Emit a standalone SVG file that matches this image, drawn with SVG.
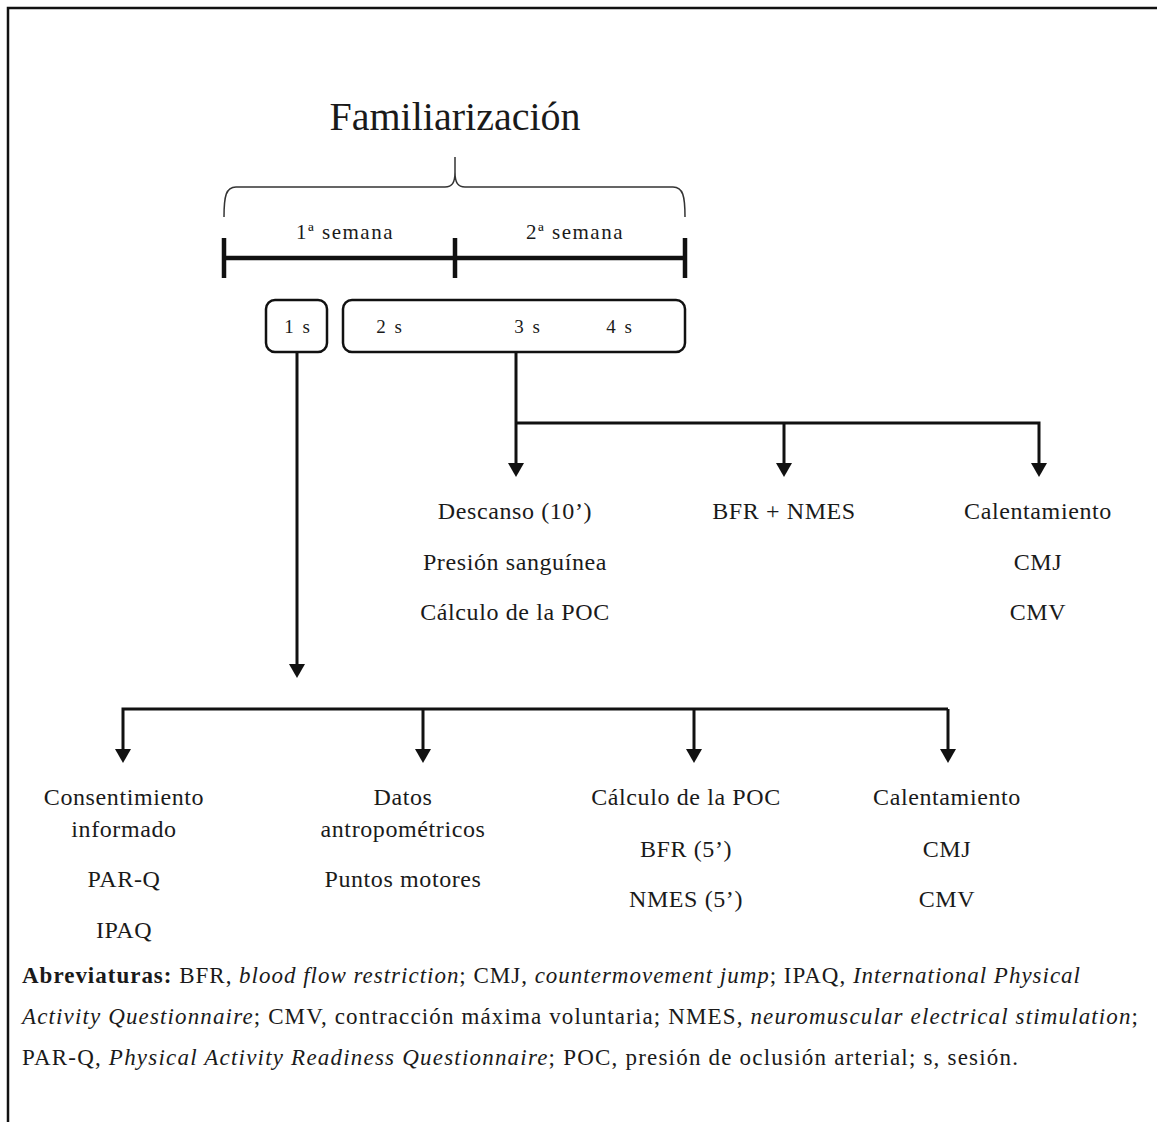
<svg xmlns="http://www.w3.org/2000/svg" width="1157" height="1122" viewBox="0 0 1157 1122">
  <style>
    text { font-family: "Liberation Serif", "Times New Roman", serif; fill: #1a1a1a; }
    .title { font-size: 40px; text-anchor: middle; }
    .week { font-size: 21px; text-anchor: middle; letter-spacing: 1.5px; }
    .sess { font-size: 19px; text-anchor: middle; letter-spacing: 2px; }
    .node { font-size: 24px; text-anchor: middle; letter-spacing: 0.6px; }
    .abbr { font-size: 23px; }
    .b { font-weight: bold; }
    .i { font-style: italic; }
    .frame { stroke: #111; stroke-width: 2.5; fill: none; }
    .box { fill: #fff; stroke: #111; stroke-width: 2.5; }
    .conn { stroke: #111; stroke-width: 3; fill: none; }
    .tl { stroke: #111; stroke-width: 4.5; fill: none; }
    .brace { stroke: #333; stroke-width: 1.5; fill: none; }
  </style>
  <defs>
    <marker id="arr" viewBox="0 0 14 16" refX="4" refY="8" markerWidth="14" markerHeight="16" markerUnits="userSpaceOnUse" orient="auto">
      <path d="M0,0 L14,8 L0,16 z" fill="#111"/>
    </marker>
  </defs>
  <rect width="1157" height="1122" fill="#fff"/>
  <path class="frame" d="M8,1122 V8 H1157"/>

  <g id="title">
    <text class="title" x="455" y="130">Familiarización</text>
    <path class="brace" d="M224,217 C224,196 226,187 236,187 L445,187 C452,187 455,183 455,172 L455,157 M455,172 C455,183 458,187 465,187 L673,187 C683,187 685,196 685,217"/>
  </g>

  <g id="timeline">
    <path class="tl" d="M224,258 H685 M224,238 V278 M455,238 V278 M685,238 V278"/>
    <text class="week" x="345" y="239">1ª semana</text>
    <text class="week" x="575" y="239">2ª semana</text>
  </g>

  <g id="session1">
    <rect class="box" x="266" y="300" width="61" height="52" rx="9"/>
    <text class="sess" x="298" y="333">1 s</text>
  </g>
  <g id="sessions234">
    <rect class="box" x="343" y="300" width="342" height="52" rx="9"/>
    <text class="sess" x="390" y="333">2 s</text>
    <text class="sess" x="528" y="333">3 s</text>
    <text class="sess" x="620" y="333">4 s</text>
  </g>

  <g id="connectors">
    <path class="conn" d="M297,352 V668" marker-end="url(#arr)"/>
    <path class="conn" d="M516,352 V467" marker-end="url(#arr)"/>
    <path class="conn" d="M516,423 H1039 V467" marker-end="url(#arr)"/>
    <path class="conn" d="M784,423 V467" marker-end="url(#arr)"/>
    <path class="conn" d="M948,709 H123 V753" marker-end="url(#arr)"/>
    <path class="conn" d="M423,709 V753" marker-end="url(#arr)"/>
    <path class="conn" d="M694,709 V753" marker-end="url(#arr)"/>
    <path class="conn" d="M948,709 V753" marker-end="url(#arr)"/>
  </g>

  <g id="descanso">
    <text class="node" x="515" y="519">Descanso (10’)</text>
    <text class="node" x="515" y="570">Presión sanguínea</text>
    <text class="node" x="515" y="620">Cálculo de la POC</text>
  </g>
  <g id="bfr-nmes">
    <text class="node" x="784" y="519">BFR + NMES</text>
  </g>
  <g id="calentamiento-2">
    <text class="node" x="1038" y="519">Calentamiento</text>
    <text class="node" x="1038" y="570">CMJ</text>
    <text class="node" x="1038" y="620">CMV</text>
  </g>

  <g id="consentimiento">
    <text class="node" x="124" y="805">Consentimiento</text>
    <text class="node" x="124" y="837">informado</text>
    <text class="node" x="124" y="887">PAR-Q</text>
    <text class="node" x="124" y="938">IPAQ</text>
  </g>
  <g id="datos">
    <text class="node" x="403" y="805">Datos</text>
    <text class="node" x="403" y="837">antropométricos</text>
    <text class="node" x="403" y="887">Puntos motores</text>
  </g>
  <g id="calculo-poc">
    <text class="node" x="686" y="805">Cálculo de la POC</text>
    <text class="node" x="686" y="857">BFR (5’)</text>
    <text class="node" x="686" y="907">NMES (5’)</text>
  </g>
  <g id="calentamiento-1">
    <text class="node" x="947" y="805">Calentamiento</text>
    <text class="node" x="947" y="857">CMJ</text>
    <text class="node" x="947" y="907">CMV</text>
  </g>

  <g id="abreviaturas">
    <text class="abbr" x="22" y="983" textLength="1058" lengthAdjust="spacing"><tspan class="b">Abreviaturas:</tspan> BFR, <tspan class="i">blood flow restriction</tspan>; CMJ, <tspan class="i">countermovement jump</tspan>; IPAQ, <tspan class="i">International Physical</tspan></text>
    <text class="abbr" x="22" y="1024" textLength="1116" lengthAdjust="spacing"><tspan class="i">Activity Questionnaire</tspan>; CMV, contracción máxima voluntaria; NMES, <tspan class="i">neuromuscular electrical stimulation</tspan>;</text>
    <text class="abbr" x="22" y="1065" textLength="996" lengthAdjust="spacing">PAR-Q, <tspan class="i">Physical Activity Readiness Questionnaire</tspan>; POC, presión de oclusión arterial; s, sesión.</text>
  </g>
</svg>
